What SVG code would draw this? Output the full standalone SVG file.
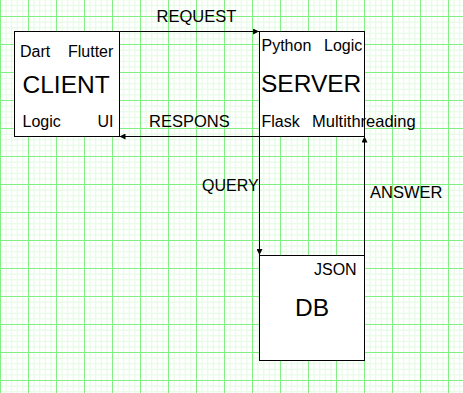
<svg xmlns="http://www.w3.org/2000/svg" width="463" height="393" viewBox="0 0 463 393">
  <style>
    .box { fill: #ffffff; stroke: #000000; stroke-width: 1; }
    .lbl { font-family: "Liberation Sans", Arial, sans-serif; font-size: 16px; fill: #000000; }
    .big { font-family: "Liberation Sans", Arial, sans-serif; font-size: 24.5px; fill: #000000; }
    .edge { fill: none; stroke: #000000; stroke-width: 1; }
  </style>
  <defs>
    <pattern id="grid" x="0" y="16" width="28" height="28" patternUnits="userSpaceOnUse">
      <rect x="0" y="0" width="28" height="28" fill="#ffffff"/>
      <g fill="#e4fbe4">
        <rect x="5.6" y="0" width="1" height="28"/>
        <rect x="11.2" y="0" width="1" height="28"/>
        <rect x="16.8" y="0" width="1" height="28"/>
        <rect x="22.4" y="0" width="1" height="28"/>
        <rect x="0" y="5.6" width="28" height="1"/>
        <rect x="0" y="11.2" width="28" height="1"/>
        <rect x="0" y="16.8" width="28" height="1"/>
        <rect x="0" y="22.4" width="28" height="1"/>
      </g>
      <g fill="#80f080">
        <rect x="0" y="0" width="1" height="28"/>
        <rect x="0" y="0" width="28" height="1"/>
      </g>
    </pattern>
    <marker id="arrow" viewBox="0 0 6 6" refX="6" refY="3" markerWidth="6" markerHeight="6" orient="auto" markerUnits="userSpaceOnUse">
      <path d="M0,0 L6,3 L0,6 Z" fill="#000000"/>
    </marker>
  </defs>

  <!-- background grid -->
  <rect x="0" y="0" width="463" height="393" fill="url(#grid)"/>

  <!-- client node -->
  <g id="client">
    <rect class="box" x="14.5" y="31.5" width="105" height="105"/>
    <text class="lbl" x="20" y="57">Dart</text>
    <text class="lbl" x="68" y="57">Flutter</text>
    <text class="big" x="22.5" y="92.5">CLIENT</text>
    <text class="lbl" x="22.5" y="127">Logic</text>
    <text class="lbl" x="97.5" y="127">UI</text>
  </g>

  <!-- server node -->
  <g id="server">
    <rect class="box" x="259.5" y="31.5" width="105" height="105"/>
    <text class="lbl" x="261.5" y="51">Python</text>
    <text class="lbl" x="324" y="51">Logic</text>
    <text class="big" x="261" y="92">SERVER</text>
    <text class="lbl" x="261.5" y="127">Flask</text>
    <text class="lbl" x="312" y="127" style="font-size:16.5px">Multithreading</text>
  </g>

  <!-- database node -->
  <g id="db">
    <rect class="box" x="259.5" y="255.5" width="105" height="105"/>
    <text class="lbl" x="314" y="274.5">JSON</text>
    <text class="big" x="295" y="316">DB</text>
  </g>

  <!-- connectors -->
  <g id="connectors">
    <path class="edge" d="M119.5,31.5 L259,31.5" marker-end="url(#arrow)"/>
    <text class="lbl" x="156.5" y="22" style="font-size:16.5px">REQUEST</text>
    <path class="edge" d="M259.5,136.5 L119.5,136.5" marker-end="url(#arrow)"/>
    <text class="lbl" x="149" y="127" style="font-size:16.5px">RESPONS</text>
    <path class="edge" d="M259.5,136.5 L259.5,255" marker-end="url(#arrow)"/>
    <text class="lbl" x="202" y="190.5">QUERY</text>
    <path class="edge" d="M364.5,255.5 L364.5,136.5" marker-end="url(#arrow)"/>
    <text class="lbl" x="370" y="197.5" style="font-size:16.5px">ANSWER</text>
  </g>
</svg>
